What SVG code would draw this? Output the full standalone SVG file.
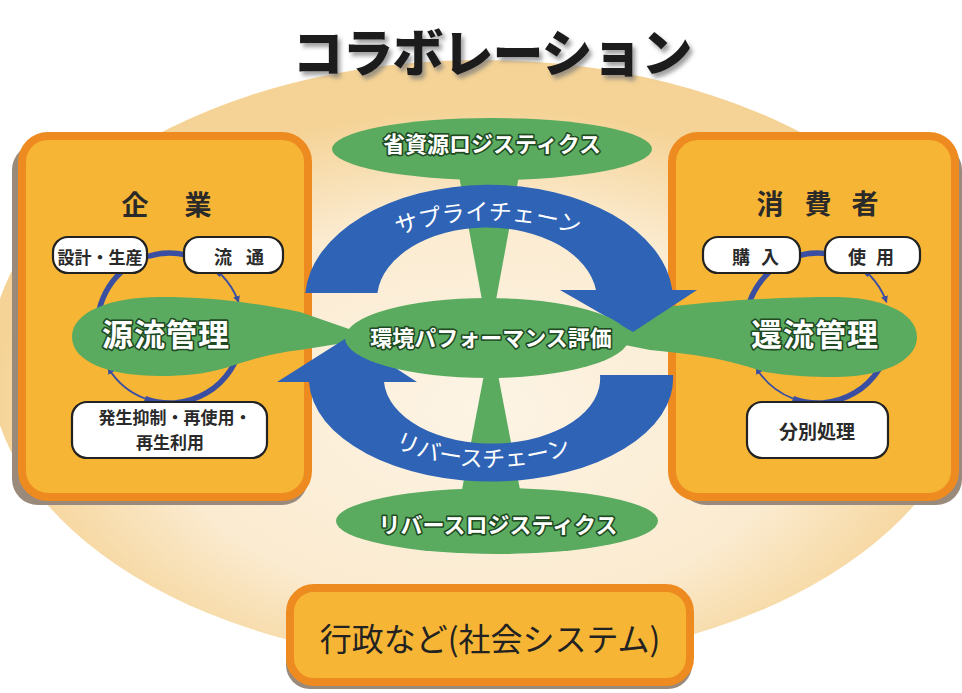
<svg xmlns="http://www.w3.org/2000/svg" width="962" height="693" viewBox="0 0 962 693">
<style>
.shadow{fill:#9a8a7c}
.box{fill:#f6b534;stroke:#ee8b20;stroke-width:8}
.lbl{fill:#ffffff;stroke:#222;stroke-width:2.2}
.green{fill:#5aab60}
.blue{fill:#2e63b6}
.ring{fill:none;stroke:#3a4fa2;stroke-width:5.5}
.ringthin{fill:none;stroke:#3a4fa2;stroke-width:1.8}
.jp{font-family:"Noto Sans CJK JP","Noto Sans CJK SC",sans-serif}
.dark{fill:#2a2a2a;font-weight:bold}
.wt{fill:#ffffff;stroke:#1f4a22;stroke-width:3.2;paint-order:stroke;stroke-linejoin:round;font-weight:bold}
.chain{fill:#ffffff;font-size:23px}
</style>
<defs>
<radialGradient id="bg" cx="50%" cy="58%" r="50%">
<stop offset="0" stop-color="#fdf4e5"/>
<stop offset="0.65" stop-color="#fbebd0"/>
<stop offset="1" stop-color="#f5d396"/>
</radialGradient>
<filter id="ds" x="-10%" y="-20%" width="120%" height="150%">
<feDropShadow dx="3" dy="4" stdDeviation="2" flood-color="#777" flood-opacity="0.7"/>
</filter>
<marker id="ah" viewBox="0 0 10 10" refX="9" refY="5" markerWidth="7" markerHeight="7" markerUnits="userSpaceOnUse" orient="auto">
<path d="M0,0 L10,5 L0,10 Z" fill="#3a4fa2"/>
</marker>
<path id="supplyPath" d="M 335,300 A 153 80 0 0 1 641,300"/>
<path id="reversePath" d="M 338,375 A 152 92 0 0 0 642,375"/>
<g id="ring">
<path class="ring" d="M 101.4,353.7 A 73 75 0 0 1 221.6,275"/>
<path class="ringthin" d="M 221.6,275 A 73 75 0 0 1 238.6,302.3" marker-end="url(#ah)"/>
<path class="ring" d="M 241.9,341 A 73 75 0 0 1 145,398.5"/>
<path class="ringthin" d="M 145,398.5 A 73 75 0 0 1 108.1,367.7" marker-end="url(#ah)"/>
</g>
</defs>

<rect width="962" height="693" fill="#ffffff"/>
<ellipse cx="481" cy="362" rx="492" ry="302" fill="url(#bg)"/>

<text class="jp" x="492" y="72" text-anchor="middle" font-size="51" font-weight="900" letter-spacing="-1" fill="#1c1c1c" filter="url(#ds)">コラボレーション</text>

<g id="company">
<rect class="shadow" x="12" y="144" width="296" height="361" rx="26"/>
<rect class="box" x="22" y="136" width="286" height="361" rx="26"/>
<use href="#ring"/>
<rect class="lbl" x="53" y="237" width="94" height="36" rx="15"/>
<rect class="lbl" x="184" y="237" width="99" height="36" rx="15"/>
<rect class="lbl" x="72" y="402" width="195" height="56" rx="15"/>
<text class="jp dark" x="135 198" y="215" font-size="27" text-anchor="middle">企業</text>
<text class="jp dark" x="100" y="264" font-size="17" text-anchor="middle">設計・生産</text>
<text class="jp dark" x="223 255" y="264" font-size="18" text-anchor="middle">流通</text>
<text class="jp dark" x="175" y="424" font-size="17" text-anchor="middle">発生抑制・再使用・</text>
<text class="jp dark" x="170" y="449" font-size="17" text-anchor="middle">再生利用</text>
</g>

<g id="consumer">
<rect class="shadow" x="680" y="144" width="282" height="361" rx="26"/>
<rect class="box" x="672" y="136" width="283" height="361" rx="26"/>
<use href="#ring" transform="translate(648,0)"/>
<rect class="lbl" x="703" y="237" width="97" height="36" rx="15"/>
<rect class="lbl" x="825" y="237" width="95" height="36" rx="15"/>
<rect class="lbl" x="747" y="402" width="141" height="56" rx="15"/>
<text class="jp dark" x="770 818 865" y="214" font-size="27" text-anchor="middle">消費者</text>
<text class="jp dark" x="741 770" y="264" font-size="18" text-anchor="middle">購入</text>
<text class="jp dark" x="857 885" y="264" font-size="18" text-anchor="middle">使用</text>
<text class="jp dark" x="817" y="439" font-size="19" text-anchor="middle">分別処理</text>
</g>

<g id="government">
<rect class="shadow" x="286" y="594" width="406" height="95" rx="24"/>
<rect class="box" x="290" y="588" width="400" height="94" rx="24"/>
<text class="jp" x="490" y="651" font-size="32" fill="#222" text-anchor="middle">行政など(社会システム)</text>
</g>

<g id="connectors">
<polygon class="green" points="458,170 520,170 489,338"/>
<polygon class="green" points="460,500 522,500 491,338"/>
<path class="green" d="M 72,337 C 72,312 110,297 160,297 C 210,297 250,302 300,312 L 375,338 L 300,350 C 265,354 245,362 225,368 C 205,374 185,376 160,376 C 110,376 72,362 72,337 Z"/>
<path class="green" d="M 917,337 C 917,312 880,297 835,297 C 785,297 720,300 650,309 L 590,338 L 650,350 C 720,356 745,366 765,372 C 790,376 810,377 835,377 C 880,377 917,362 917,337 Z"/>
<path class="blue" d="M 305.3,293 A 184 115 0 0 1 672.3,290 L 697,290 L 633,332 L 560,290 L 596,290 A 110 72 0 0 0 377.4,293 Z"/>
<path class="blue" d="M 673,375 A 182 103 0 0 1 309,382 L 277,382 L 348,337 L 417,382 L 384,382 A 108 65 0 0 0 600,375 Z"/>
<text class="jp chain"><textPath href="#supplyPath" startOffset="50%" text-anchor="middle">サプライチェーン</textPath></text>
<text class="jp chain"><textPath href="#reversePath" startOffset="48%" text-anchor="middle">リバースチェーン</textPath></text>
</g>

<g id="source-mgmt">
<text class="jp wt" x="166" y="346" font-size="31" text-anchor="middle" letter-spacing="1">源流管理</text>
</g>
<g id="return-mgmt">
<text class="jp wt" x="815" y="346" font-size="31" text-anchor="middle" letter-spacing="1">還流管理</text>
</g>
<g id="resource-logistics">
<ellipse class="green" cx="492" cy="149" rx="160" ry="31"/>
<text class="jp wt" x="492" y="152" font-size="22" text-anchor="middle">省資源ロジスティクス</text>
</g>
<g id="env-performance">
<ellipse class="green" cx="487" cy="338" rx="142" ry="40"/>
<text class="jp wt" x="491" y="346" font-size="22" text-anchor="middle">環境パフォーマンス評価</text>
</g>
<g id="reverse-logistics">
<ellipse class="green" cx="497" cy="521" rx="161" ry="33"/>
<text class="jp wt" x="498" y="533" font-size="22" text-anchor="middle">リバースロジスティクス</text>
</g>
</svg>
